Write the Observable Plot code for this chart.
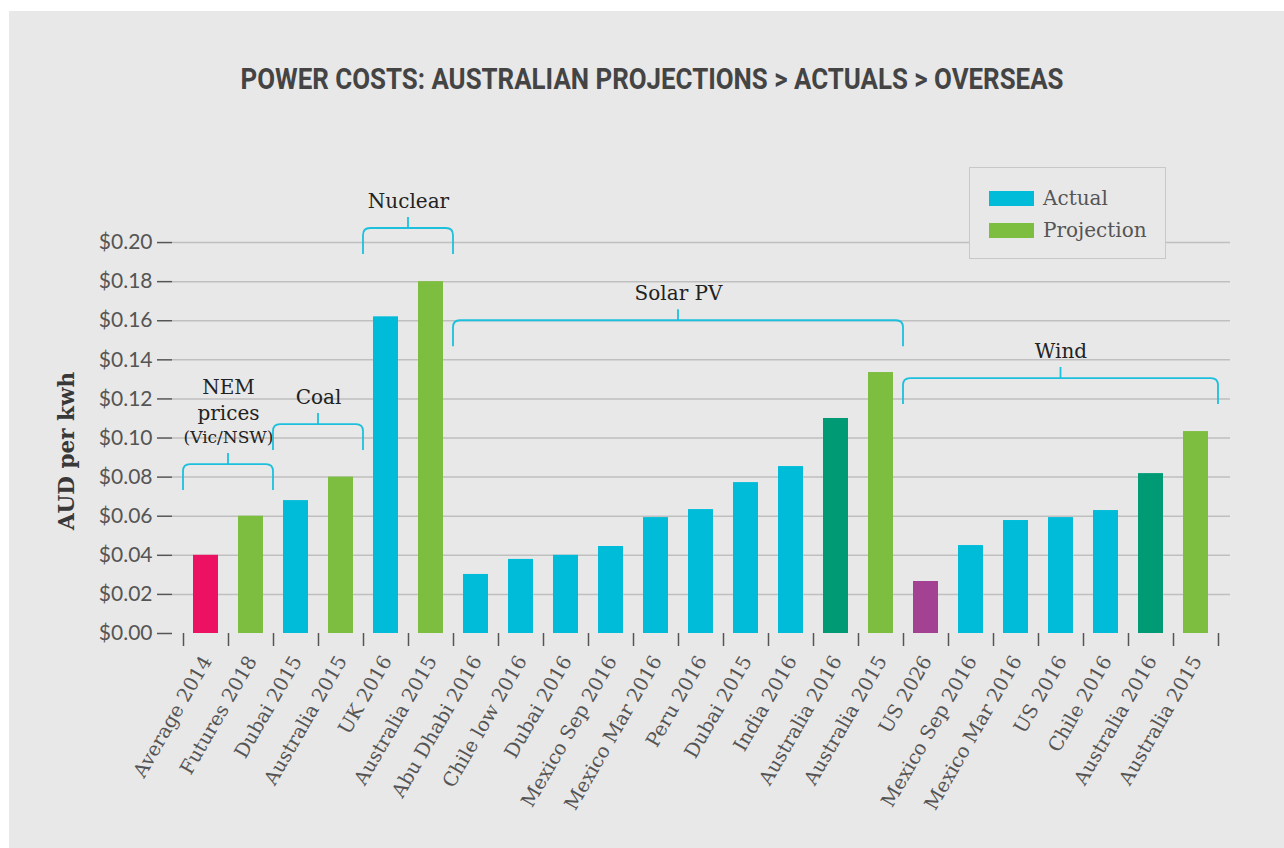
<!DOCTYPE html>
<html>
<head>
<meta charset="utf-8">
<script src="https://cdn.jsdelivr.net/npm/d3@7"></script>
<script src="https://cdn.jsdelivr.net/npm/@observablehq/plot@0.6"></script>
<style>
  html, body { margin: 0; padding: 0; background: #ffffff; }
  #wrap { position: relative; width: 1284px; height: 848px; overflow: hidden; }
  #panel { position: absolute; left: 9px; top: 11px; width: 1275px; height: 837px; background: #e8e8e8; }
  #chart { position: absolute; left: 0; top: 0; }
  #title { position: absolute; left: 0; top: 0; }
  #legend { position: absolute; left: 969px; top: 167px; width: 197px; height: 92px; box-sizing: border-box;
            border: 1.5px solid #c8c8c8; background: #e8e8e8; z-index: 5; }
  .lg-item { position: absolute; left: 19px; height: 20px; display: flex; align-items: center;
             font-family: "DejaVu Serif", serif; font-size: 20px; color: #555; }
  .lg-sw { width: 45px; height: 15px; margin-right: 9px; }
</style>
</head>
<body>
<div id="wrap">
  <div id="panel"></div>
  <div id="chart"></div>
  <svg id="title" width="1284" height="120">
    <text x="652" y="89" text-anchor="middle" textLength="823" lengthAdjust="spacingAndGlyphs"
          font-family="Roboto, sans-serif" font-weight="bold" font-size="29" fill="#444">POWER COSTS: AUSTRALIAN PROJECTIONS &gt; ACTUALS &gt; OVERSEAS</text>
  </svg>
  <div id="legend"></div>
</div>
<script>
// ---- data ----
const labels = ["Average 2014","Futures 2018","Dubai 2015","Australia 2015","UK 2016","Australia 2015",
  "Abu Dhabi 2016","Chile low 2016","Dubai 2016","Mexico Sep 2016","Mexico Mar 2016","Peru 2016",
  "Dubai 2015","India 2016","Australia 2016","Australia 2015","US 2026","Mexico Sep 2016",
  "Mexico Mar 2016","US 2016","Chile 2016","Australia 2016","Australia 2015"];
const values = [0.040,0.060,0.068,0.080,0.162,0.180,
  0.0302,0.0379,0.040,0.0445,0.0593,0.0634,
  0.0772,0.0854,0.110,0.1335,0.0266,0.045,
  0.0578,0.0593,0.0629,0.0818,0.1033];
const kinds = ["Average","Projection","Actual","Projection","Actual","Projection",
  "Actual","Actual","Actual","Actual","Actual","Actual",
  "Actual","Actual","Australia actual","Projection","US","Actual",
  "Actual","Actual","Actual","Australia actual","Projection"];
const kindDomain = ["Actual","Projection","Average","Australia actual","US"];
const kindColors = ["#00bcd9","#7dbd40","#ed1163","#009b75","#a34193"];

const groupTitle = ["NEM\nprices","Coal","Nuclear","Solar PV","Wind"];
const groupNote  = ["(Vic/NSW)","","","",""];
const groupStart = [0,2,4,6,16];
const groupEnd   = [1,3,5,15,22];
const groupLevel = [0.0864,0.1069,0.2072,0.160,0.1304];

const yTicks = [0,0.02,0.04,0.06,0.08,0.10,0.12,0.14,0.16,0.18,0.20];
const legendLabels = ["Actual","Projection"];

// ---- build ----
const idx = d3.range(labels.length);
const gidx = d3.range(groupTitle.length);
const serif = "DejaVu Serif, serif";

const chart = Plot.plot({
  width: 1284,
  height: 848,
  marginLeft: 172,
  marginRight: 54,
  marginTop: 210,
  marginBottom: 215,
  style: {background: "transparent", fontFamily: "Lato, sans-serif", fontSize: "21px"},
  x: {type: "linear", domain: [-11/45, labels.length + 12/45]},
  y: {domain: [0, 0.2164]},
  color: {domain: kindDomain, range: kindColors},
  marks: [
    Plot.gridY(yTicks.slice(1), {stroke: "#bfbfbf", strokeOpacity: 1, strokeWidth: 1.5}),
    Plot.rectY(idx, {x1: i => i, x2: i => i + 1, y: i => values[i], fill: i => kinds[i], insetLeft: 10, insetRight: 10}),
    Plot.axisY({ticks: yTicks, tickFormat: d3.format("$.2f"), tickSize: 15, tickPadding: 5, label: null,
      fontSize: 21, color: "#555", stroke: "#555", strokeWidth: 1.5, line: true}),
    Plot.axisX({ticks: d3.range(labels.length + 1), tickFormat: () => "", tickSize: 13, label: null,
      stroke: "#555", strokeWidth: 1.5, line: true}),
    Plot.text(idx, {x: i => i + 0.5, y: 0, text: i => labels[i], rotate: -60, textAnchor: "end",
      lineAnchor: "middle", dy: 24, dx: 1, fontFamily: serif, fontSize: 19.5, fill: "#555"}),
    Plot.text(["AUD per kwh"], {frameAnchor: "left", textAnchor: "middle", rotate: -90, dx: -105, dy: 29,
      fontFamily: serif, fontWeight: "bold", fontSize: 21.5, fill: "#383838"}),
    Plot.text(gidx.filter(i => groupNote[i] === ""), {x: i => (groupStart[i] + groupEnd[i] + 1) / 2, y: i => groupLevel[i],
      text: i => groupTitle[i], dy: -27, lineAnchor: "middle", fontFamily: serif, fontSize: 20, fill: "#222"}),
    Plot.text(gidx.filter(i => groupNote[i] !== ""), {x: i => (groupStart[i] + groupEnd[i] + 1) / 2, y: i => groupLevel[i],
      text: i => groupTitle[i], dy: -66, lineHeight: 1.3, lineAnchor: "middle", fontFamily: serif, fontSize: 20, fill: "#222"}),
    Plot.text(gidx.filter(i => groupNote[i] !== ""), {x: i => (groupStart[i] + groupEnd[i] + 1) / 2, y: i => groupLevel[i],
      text: i => groupNote[i], dy: -27, lineAnchor: "middle", fontFamily: serif, fontSize: 17, fill: "#222"})
  ]
});
document.getElementById("chart").appendChild(chart);

// brackets drawn through the plot's own scales
const xs = chart.scale("x"), ys = chart.scale("y");
const svg = d3.select(chart);
const g = svg.append("g").attr("fill", "none").attr("stroke", "#1cc0dd").attr("stroke-width", 1.8);
const r = 7, drop = 26, up = 11;
gidx.forEach(i => {
  const x0 = xs.apply(groupStart[i]), x1 = xs.apply(groupEnd[i] + 1), yl = ys.apply(groupLevel[i]);
  const xm = (x0 + x1) / 2;
  g.append("path").attr("d",
    `M${x0},${yl + drop}V${yl + r}Q${x0},${yl} ${x0 + r},${yl}H${x1 - r}Q${x1},${yl} ${x1},${yl + r}V${yl + drop}` +
    `M${xm},${yl}V${yl - up}`);
});

// legend
const lg = document.getElementById("legend");
legendLabels.forEach((lab, k) => {
  const item = document.createElement("div");
  item.className = "lg-item";
  item.style.top = (20 + k * 32) + "px";
  const sw = document.createElement("div");
  sw.className = "lg-sw";
  sw.style.background = kindColors[kindDomain.indexOf(lab)];
  const t = document.createElement("span");
  t.textContent = lab;
  item.appendChild(sw); item.appendChild(t);
  lg.appendChild(item);
});
</script>
</body>
</html>
